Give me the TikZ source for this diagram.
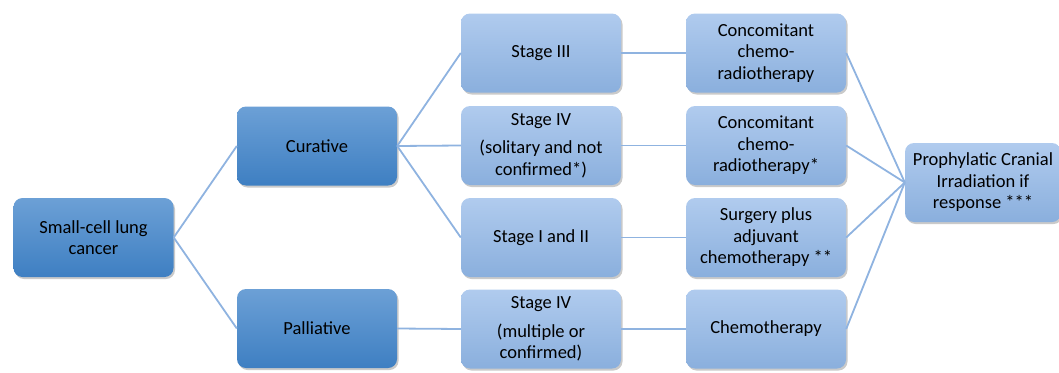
\documentclass[tikz,border=0pt]{standalone}
\usepackage{fontspec}
\setmainfont{Carlito}
\usetikzlibrary{shadows}
\definecolor{dtop}{HTML}{6CA0D6}
\definecolor{dbot}{HTML}{3E7FC2}
\definecolor{ltop}{HTML}{B0CBEE}
\definecolor{lbot}{HTML}{8AAFDD}
\definecolor{edgec}{HTML}{8FB3E0}
\tikzset{
  box/.style={rounded corners=9pt, minimum width=160pt, minimum height=79pt, align=center,
    font=\fontsize{18.5}{21.5}\selectfont, inner sep=2pt,
    drop shadow={shadow xshift=1.5pt, shadow yshift=-2pt, opacity=0.35, fill=black!60}},
  darkbox/.style={box, top color=dtop, bottom color=dbot, draw=none},
  lightbox/.style={box, top color=ltop, bottom color=lbot, draw=none},
  conn/.style={draw=edgec, line width=1.8pt}
}
\begin{document}
\begin{tikzpicture}[x=1pt,y=-1pt]
\useasboundingbox (0,0) rectangle (1059,372);
\node[darkbox] (scl) at (93.5,237.5) {Small-cell lung\\cancer};
\node[darkbox] (cur) at (317,146) {Curative};
\node[darkbox] (pal) at (317,328.5) {Palliative};
\node[lightbox] (s3) at (541,53) {Stage III};
\node[lightbox] (s4a) at (541,145.5) {Stage IV\\[7pt](solitary and not\\confirmed*)};
\node[lightbox] (s12) at (541,237.5) {Stage I and II};
\node[lightbox] (s4b) at (541,329) {Stage IV\\[7pt](multiple or\\confirmed)};
\node[lightbox] (t1) at (766,53) {Concomitant\\chemo-\\radiotherapy};
\node[lightbox] (t2) at (766,145.5) {Concomitant\\chemo-\\radiotherapy*};
\node[lightbox] (t3) at (766,237.5) {Surgery plus\\adjuvant\\chemotherapy **};
\node[lightbox] (t4) at (766,329) {Chemotherapy};
\node[lightbox, minimum width=156pt] (pci) at (983,182.5) {Prophylatic Cranial\\Irradiation if\\response ***};
\path[conn] (scl.east) -- (cur.west);
\path[conn] (scl.east) -- (pal.west);
\path[conn] (cur.east) -- (s3.west);
\path[conn] (cur.east) -- (s4a.west);
\path[conn] (cur.east) -- (s12.west);
\path[conn] (pal.east) -- (s4b.west);
\path[conn] (s3.east) -- (t1.west);
\path[conn] (s4a.east) -- (t2.west);
\path[conn] (s12.east) -- (t3.west);
\path[conn] (s4b.east) -- (t4.west);
\path[conn] (t1.east) -- (pci.west);
\path[conn] (t2.east) -- (pci.west);
\path[conn] (t3.east) -- (pci.west);
\path[conn] (t4.east) -- (pci.west);
\end{tikzpicture}
\end{document}
